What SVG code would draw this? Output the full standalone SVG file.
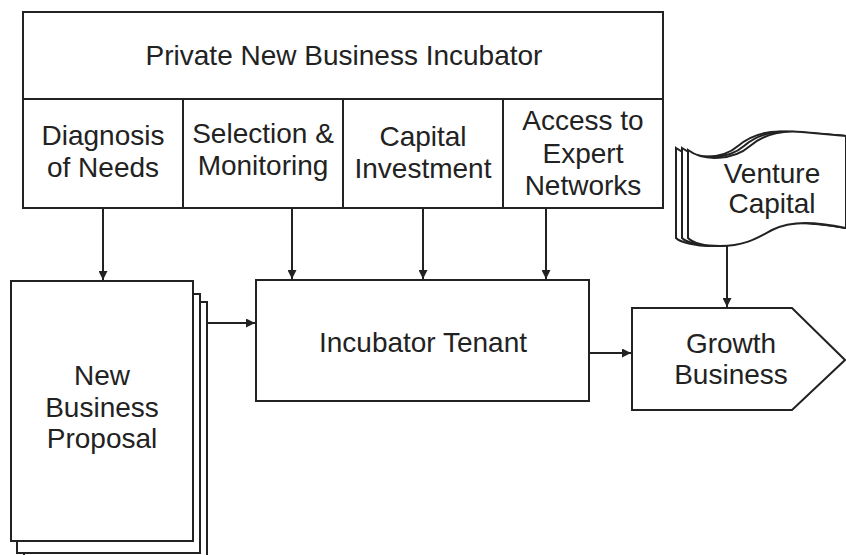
<svg xmlns="http://www.w3.org/2000/svg" width="846" height="555" viewBox="0 0 846 555">
<defs>
<marker id="ah" viewBox="0 0 10 10" refX="10" refY="5" markerWidth="9" markerHeight="9" markerUnits="userSpaceOnUse" orient="auto">
<path d="M0,0 L10,5 L0,10 Z" fill="#222"/>
</marker>
<style>
.box{fill:#fff;stroke:#222;stroke-width:2}
.ln{fill:none;stroke:#222;stroke-width:2}
.t{font-family:"Liberation Sans",Arial,sans-serif;font-size:28px;fill:#222;text-anchor:middle}
</style>
</defs>
<rect width="846" height="555" fill="#fff"/>
<g id="incubator">
<rect class="box" x="23" y="12" width="640" height="196"/>
<line class="ln" x1="23" y1="99" x2="663" y2="99"/>
<text class="t" x="344" y="65">Private New Business Incubator</text>
</g>
<g id="diagnosis">
<line class="ln" x1="183" y1="99" x2="183" y2="208"/>
<text class="t" x="103" y="145">Diagnosis</text>
<text class="t" x="103" y="177">of Needs</text>
</g>
<g id="selection">
<line class="ln" x1="343" y1="99" x2="343" y2="208"/>
<text class="t" x="263" y="143">Selection &amp;</text>
<text class="t" x="263" y="175">Monitoring</text>
</g>
<g id="capital">
<line class="ln" x1="503" y1="99" x2="503" y2="208"/>
<text class="t" x="423" y="146">Capital</text>
<text class="t" x="423" y="178">Investment</text>
</g>
<g id="access">
<text class="t" x="583" y="130">Access to</text>
<text class="t" x="583" y="163">Expert</text>
<text class="t" x="583" y="195">Networks</text>
</g>
<g id="proposal">
<rect class="box" x="24" y="302" width="183" height="260"/>
<rect class="box" x="17" y="294" width="183" height="259"/>
<rect class="box" x="11" y="281" width="182" height="260"/>
<text class="t" x="102" y="385">New</text>
<text class="t" x="102" y="417">Business</text>
<text class="t" x="102" y="448">Proposal</text>
</g>
<g id="tenant">
<rect class="box" x="256" y="280" width="333" height="121"/>
<text class="t" x="423" y="352">Incubator Tenant</text>
</g>
<g id="venture">
<path class="box" d="M676,148 C692,160 722,160 738,146 C752,134 770,130 790,132 L846,136 L846,228 C810,222 780,220 760,230 C745,238 735,246 712,246 C694,246 680,242 676,238 Z"/>
<path class="box" d="M682,148 C698,160 728,160 744,146 C758,134 776,130 796,132 L846,136 L846,228 C812,222 786,220 766,230 C751,238 740,246 716,246 C698,246 686,242 682,238 Z"/>
<path class="box" d="M688,150 C704,162 734,160 750,146 C764,134 782,130 802,132 L846,136 L846,228 C816,222 792,220 772,230 C757,238 745,246 720,246 C702,246 692,242 688,238 Z"/>
<text class="t" x="772" y="183">Venture</text>
<text class="t" x="772" y="213">Capital</text>
</g>
<g id="growth">
<path class="box" d="M632,308 L792,308 L845,360 L792,410 L632,410 Z"/>
<text class="t" x="731" y="353">Growth</text>
<text class="t" x="731" y="384">Business</text>
</g>
<g id="connectors">
<line class="ln" x1="103" y1="208" x2="103" y2="280" marker-end="url(#ah)"/>
<line class="ln" x1="292" y1="208" x2="292" y2="279" marker-end="url(#ah)"/>
<line class="ln" x1="423" y1="208" x2="423" y2="279" marker-end="url(#ah)"/>
<line class="ln" x1="546" y1="208" x2="546" y2="279" marker-end="url(#ah)"/>
<line class="ln" x1="208" y1="323" x2="255" y2="323" marker-end="url(#ah)"/>
<line class="ln" x1="589" y1="353" x2="631" y2="353" marker-end="url(#ah)"/>
<line class="ln" x1="727" y1="246" x2="727" y2="307" marker-end="url(#ah)"/>
</g>
</svg>
